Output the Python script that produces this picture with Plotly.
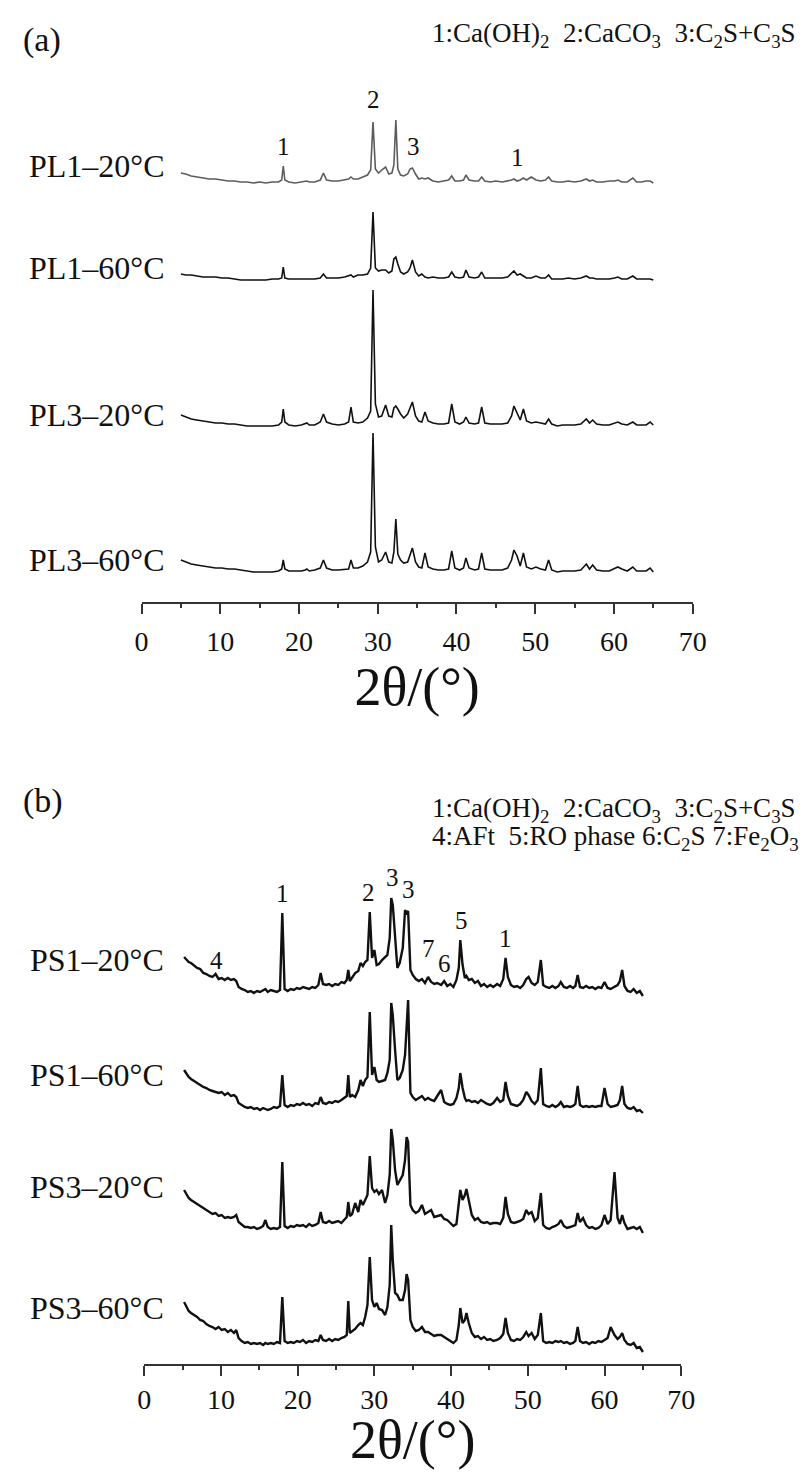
import plotly.graph_objects as go

# ---------------- panel (a): PL samples ----------------
# 2theta grid shared by the four PL patterns (deg)
A_X = [5.0, 5.6, 6.3, 7.0, 7.8, 8.6, 9.4, 10.2, 11.0, 11.8,
       12.6, 13.4, 14.2, 15.0, 15.8, 16.6, 17.4, 17.8, 18.0, 18.2,
       18.7, 19.5, 20.3, 20.8, 21.0, 21.3, 22.0, 22.7, 23.1, 23.5,
       24.2, 25.0, 25.8, 26.3, 26.6, 26.9, 27.5, 28.1, 28.7, 29.1,
       29.4, 29.7, 30.1, 30.5, 31.0, 31.4, 31.8, 32.05, 32.3, 32.55,
       32.9, 33.3, 33.8, 34.1, 34.4, 34.8, 35.2, 35.6, 36.0, 36.4,
       37.0, 37.7, 38.4, 39.0, 39.4, 39.8, 40.4, 40.9, 41.2, 41.6,
       42.3, 42.8, 43.2, 43.6, 44.3, 45.0, 45.8, 46.5, 47.0, 47.3,
       47.7, 48.1, 48.5, 48.9, 49.5, 50.1, 50.7, 51.3, 51.7, 52.1,
       52.8, 53.5, 54.2, 55.0, 55.8, 56.5, 56.9, 57.3, 57.8, 58.6,
       59.4, 60.1, 60.5, 61.0, 61.7, 62.4, 62.9, 63.5, 64.1, 64.6, 65.0]

# intensities (a.u.) above each pattern's own baseline
PL1_20 = [10, 9, 7, 6, 5, 4, 4, 3, 2, 2,
          1, 1, 0, 1, 0, 1, 1, 3, 17, 3,
          1, 0, 1, 1, 2, 1, 1, 3, 10, 3,
          2, 2, 3, 4, 6, 4, 4, 6, 8, 13,
          61, 14, 10, 13, 16, 9, 10, 18, 63, 14,
          8, 7, 9, 14, 15, 9, 4, 5, 4, 5,
          2, 1, 2, 3, 7, 2, 2, 3, 8, 3,
          2, 2, 6, 2, 1, 2, 1, 2, 3, 4,
          2, 3, 5, 3, 6, 3, 2, 3, 6, 2,
          1, 1, 2, 1, 2, 4, 2, 3, 1, 1,
          2, 2, 3, 1, 1, 5, 1, 1, 2, 2, 0]
PL1_60 = [6, 5, 5, 4, 3, 3, 3, 2, 2, 1,
          0, 0, 0, 0, 0, 1, 1, 2, 13, 2,
          1, 1, 1, 1, 1, 1, 1, 2, 6, 2,
          2, 2, 3, 4, 5, 3, 5, 5, 6, 12,
          68, 12, 9, 10, 10, 7, 9, 21, 23, 16,
          8, 6, 8, 12, 20, 8, 4, 6, 3, 2,
          3, 2, 2, 3, 8, 3, 2, 3, 10, 3,
          2, 3, 8, 2, 2, 2, 2, 3, 7, 9,
          5, 6, 4, 2, 2, 4, 2, 2, 5, 1,
          1, 1, 2, 1, 2, 4, 2, 2, 1, 1,
          1, 2, 3, 1, 1, 4, 1, 1, 1, 1, 0]
PL3_20 = [11, 9, 7, 6, 5, 4, 3, 3, 2, 2,
          1, 0, 0, 0, 0, 0, 1, 4, 17, 4,
          1, 0, 1, 2, 3, 1, 1, 4, 12, 4,
          2, 1, 2, 4, 19, 4, 3, 4, 8, 15,
          136, 22, 9, 10, 21, 10, 9, 18, 20, 17,
          12, 8, 12, 18, 24, 10, 5, 4, 14, 5,
          3, 2, 2, 3, 22, 4, 2, 4, 9, 3,
          2, 3, 19, 3, 2, 2, 2, 3, 10, 20,
          12, 6, 17, 5, 3, 4, 3, 2, 7, 2,
          0, 1, 1, 1, 2, 7, 3, 6, 2, 1,
          1, 3, 4, 2, 1, 4, 1, 1, 1, 4, 1]
PL3_60 = [12, 10, 8, 7, 6, 5, 4, 4, 3, 3,
          2, 1, 0, 0, 0, 0, 1, 3, 12, 3,
          1, 1, 1, 2, 3, 1, 2, 4, 12, 4,
          2, 2, 3, 3, 12, 4, 4, 6, 10, 20,
          139, 25, 10, 12, 20, 10, 9, 20, 53, 18,
          12, 9, 10, 16, 24, 10, 5, 4, 19, 5,
          3, 2, 2, 3, 21, 4, 2, 4, 14, 4,
          2, 3, 19, 3, 2, 2, 2, 4, 12, 22,
          16, 6, 19, 5, 3, 5, 3, 2, 12, 2,
          0, 1, 1, 1, 2, 8, 3, 7, 2, 1,
          1, 4, 5, 3, 1, 5, 1, 1, 1, 4, 0]

A_NAMES = ["PL1\u201320\u00b0C", "PL1\u201360\u00b0C", "PL3\u201320\u00b0C", "PL3\u201360\u00b0C"]
A_OFFSETS = [419, 322, 176, 30]
A_LABEL_Y = [166, 268, 415, 560]  # px on page
A_PEAK_X = [18.0, 29.4, 34.6, 47.7]
A_PEAK_TXT = ["1", "2", "3", "1"]
A_PEAK_Y = [455, 502, 455, 444]

# ---------------- panel (b): PS samples ----------------
B_X = [5.2, 5.5, 5.8, 6.1, 6.5, 6.9, 7.3, 7.7, 8.1, 8.5,
       8.9, 9.3, 9.7, 10.1, 10.5, 10.9, 11.3, 11.7, 12.0, 12.3,
       12.7, 13.1, 13.5, 13.9, 14.3, 14.7, 15.1, 15.5, 15.8, 16.1,
       16.5, 16.9, 17.3, 17.7, 18.0, 18.3, 18.7, 19.1, 19.5, 19.9,
       20.3, 20.7, 21.1, 21.5, 21.9, 22.3, 22.7, 23.0, 23.3, 23.7,
       24.1, 24.5, 24.9, 25.3, 25.7, 26.1, 26.4, 26.6, 26.8, 27.1,
       27.5, 27.9, 28.2, 28.5, 28.8, 29.1, 29.4, 29.7, 30.0, 30.3,
       30.6, 31.0, 31.4, 31.7, 32.0, 32.2, 32.4, 32.7, 33.0, 33.3,
       33.7, 34.0, 34.2, 34.4, 34.7, 35.0, 35.4, 35.8, 36.2, 36.6,
       37.0, 37.4, 37.8, 38.2, 38.7, 39.1, 39.5, 39.9, 40.3, 40.7,
       41.0, 41.2, 41.5, 41.8, 42.0, 42.3, 42.7, 43.1, 43.5, 43.9,
       44.3, 44.7, 45.1, 45.5, 46.0, 46.4, 46.8, 47.1, 47.4, 47.8,
       48.2, 48.6, 49.0, 49.4, 49.8, 50.1, 50.5, 50.9, 51.3, 51.7,
       52.0, 52.4, 52.8, 53.2, 53.6, 54.0, 54.3, 54.7, 55.1, 55.5,
       55.9, 56.2, 56.5, 56.8, 57.2, 57.6, 58.0, 58.4, 58.8, 59.2,
       59.6, 60.0, 60.4, 60.8, 61.3, 61.7, 62.0, 62.3, 62.6, 63.0,
       63.4, 63.8, 64.2, 64.6, 65.0]

PS1_20 = [36, 33, 31, 30, 27, 25, 24, 20, 19, 17,
          16, 19, 14, 15, 13, 15, 13, 14, 12, 6,
          4, 3, 1, 2, 0, 2, 1, 3, 4, 1,
          3, 2, 1, 3, 80, 4, 2, 4, 3, 5,
          4, 6, 5, 4, 6, 5, 8, 20, 9, 8,
          9, 7, 9, 8, 11, 10, 13, 23, 12, 15,
          20, 22, 30, 27, 31, 33, 81, 35, 43, 28,
          29, 33, 36, 38, 55, 95, 88, 60, 25, 30,
          45, 83, 80, 82, 23, 18, 14, 12, 14, 10,
          16, 11, 9, 10, 8, 12, 7, 9, 6, 13,
          25, 53, 28, 15, 17, 13, 14, 10, 12, 7,
          9, 6, 8, 6, 9, 7, 14, 35, 16, 8,
          6, 7, 5, 8, 14, 16, 10, 8, 11, 33,
          8, 6, 5, 7, 5, 7, 11, 6, 5, 7,
          5, 7, 18, 6, 5, 7, 5, 6, 4, 6,
          5, 11, 5, 4, 6, 8, 12, 23, 7, 2,
          1, 4, 0, 2, -3]
PS1_60 = [40, 36, 33, 31, 29, 27, 25, 23, 22, 20,
          19, 18, 17, 18, 15, 17, 14, 15, 13, 7,
          5, 3, 2, 3, 1, 2, 0, 2, 1, 0,
          1, 3, 2, 4, 35, 5, 3, 5, 4, 6,
          5, 7, 5, 6, 4, 7, 6, 13, 7, 6,
          8, 7, 9, 8, 10, 12, 14, 35, 13, 15,
          13, 20, 30, 24, 30, 33, 98, 35, 43, 30,
          28, 29, 30, 37, 50, 107, 95, 60, 30, 32,
          40, 55, 85, 110, 17, 13, 10, 12, 14, 10,
          12, 10, 9, 14, 20, 8, 6, 5, 6, 12,
          22, 37, 22, 12, 9, 10, 8, 9, 7, 10,
          8, 6, 5, 7, 12, 8, 10, 28, 14, 6,
          5, 4, 6, 10, 18, 15, 9, 6, 10, 42,
          6, 4, 3, 5, 3, 5, 8, 3, 4, 3,
          4, 6, 24, 5, 3, 4, 3, 4, 3, 4,
          4, 22, 6, 3, 4, 5, 10, 24, 6, 2,
          1, 3, -1, 0, -3]
PS3_20 = [40, 36, 32, 30, 28, 26, 24, 22, 20, 18,
          16, 17, 14, 15, 12, 13, 12, 13, 15, 8,
          5, 3, 3, 2, 3, 1, 2, 4, 10, 3,
          1, 2, 1, 3, 68, 4, 2, 4, 3, 5,
          4, 5, 3, 6, 4, 5, 7, 18, 8, 7,
          9, 7, 8, 9, 7, 11, 13, 28, 14, 16,
          27, 18, 30, 25, 31, 35, 74, 42, 38, 40,
          36, 40, 27, 35, 55, 101, 90, 60, 45, 50,
          55, 70, 93, 88, 25, 20, 17, 19, 25, 16,
          18, 20, 13, 14, 15, 11, 10, 7, 4, 6,
          28, 40, 30, 35, 41, 30, 15, 10, 12, 8,
          7, 8, 6, 7, 7, 6, 12, 33, 16, 8,
          7, 8, 9, 11, 20, 16, 18, 9, 12, 37,
          5, 2, 1, 3, 4, 6, 10, 4, 2, 3,
          4, 5, 17, 8, 12, 5, 2, 3, 1, 2,
          5, 15, 6, 10, 58, 12, 6, 15, 7, 1,
          2, 3, 1, 3, -3]
PS3_60 = [43, 38, 34, 32, 30, 28, 25, 24, 21, 19,
          18, 16, 18, 15, 16, 13, 15, 12, 15, 7,
          4, 2, 3, 1, 2, 1, 2, 0, 2, 1,
          2, 1, 3, 2, 48, 4, 2, 3, 2, 4,
          3, 5, 2, 4, 3, 5, 4, 10, 5, 4,
          6, 4, 6, 5, 7, 8, 10, 44, 12, 14,
          16, 20, 22, 20, 28, 40, 88, 45, 38, 42,
          36, 35, 30, 38, 60, 120, 85, 52, 50, 45,
          45, 55, 71, 65, 25, 18, 14, 15, 18, 13,
          13, 11, 9, 10, 10, 8, 6, 4, 2, 5,
          20, 37, 22, 25, 32, 22, 12, 8, 9, 6,
          8, 5, 6, 4, 5, 7, 11, 27, 12, 5,
          4, 6, 5, 8, 13, 9, 12, 6, 10, 32,
          4, 2, 3, 2, 4, 3, 4, 2, 3, 1,
          2, 4, 18, 4, 2, 3, 1, 3, 2, 4,
          3, 5, 7, 18, 10, 6, 8, 12, 5, 1,
          0, 2, -3, -2, -7]

B_NAMES = ["PS1\u201320\u00b0C", "PS1\u201360\u00b0C", "PS3\u201320\u00b0C", "PS3\u201360\u00b0C"]
B_OFFSETS = [371, 254, 134, 19]
B_LABEL_Y = [960, 1075, 1187, 1308]  # px on page
B_PEAK_X = [9.4, 18.0, 29.2, 32.3, 34.5, 37.1, 39.1, 41.4, 47.1]
B_PEAK_TXT = ["4", "1", "2", "3", "3", "7", "6", "5", "1"]
B_PEAK_Y = [404, 471, 472, 487, 475, 416, 401, 444, 426]

# page has an 8px body margin, so the figure is a bit smaller than the window
PAD = 8
W, H = 796, 1462
SERIF = "Liberation Serif"
AXC = "#333333"
SP = "\u00a0"


def fx(p):
    return (p - PAD) / W


def fy(p):
    return 1 - (p - PAD) / H


fig = go.Figure()

a_series = [PL1_20, PL1_60, PL3_20, PL3_60]
a_colors = ["#5c5c5c", "#111111", "#111111", "#111111"]
for ys, off, col, name in zip(a_series, A_OFFSETS, a_colors, A_NAMES):
    fig.add_trace(go.Scatter(x=A_X, y=[v + off for v in ys], mode="lines", name=name,
                             line=dict(color=col, width=1.6), xaxis="x", yaxis="y"))

b_series = [PS1_20, PS1_60, PS3_20, PS3_60]
for ys, off, name in zip(b_series, B_OFFSETS, B_NAMES):
    fig.add_trace(go.Scatter(x=B_X, y=[v + off for v in ys], mode="lines", name=name,
                             line=dict(color="#111111", width=2.4), xaxis="x2", yaxis="y2"))


def xaxis_style(domain, anchor, lab_off, title_off):
    return dict(domain=domain, anchor=anchor, range=[0, 70], dtick=10,
                showline=True, linecolor=AXC, linewidth=1.5,
                ticks="outside", ticklen=10, tickwidth=1.5, tickcolor=AXC,
                minor=dict(dtick=5, ticks="outside", ticklen=4, tickwidth=1.5, tickcolor=AXC),
                tickfont=dict(family=SERIF, size=28, color="#111"), ticklabelstandoff=lab_off,
                showgrid=False, zeroline=False,
                title=dict(text="2\u03b8/(\u00b0)", font=dict(family=SERIF, size=54, color="#111"),
                           standoff=title_off))


fig.update_layout(
    width=W, height=H, margin=dict(l=0, r=0, t=0, b=0),
    paper_bgcolor="white", plot_bgcolor="white", showlegend=False,
    xaxis=xaxis_style([fx(138), fx(704)], "y", 4, 10),
    yaxis=dict(domain=[fy(602), fy(80)], range=[0, 522], visible=False),
    xaxis2=xaxis_style([fx(140.7), fx(692.3)], "y2", 0, 4),
    yaxis2=dict(domain=[fy(1364), fy(850)], range=[0, 514], visible=False),
)

# sample names on the left
for name, py in zip(A_NAMES + B_NAMES, A_LABEL_Y + B_LABEL_Y):
    fig.add_annotation(x=fx(163), y=fy(py), xref="paper", yref="paper",
                       text=name, showarrow=False, xanchor="right", yanchor="middle",
                       font=dict(family=SERIF, size=32, color="#111"))

# peak index numbers
for px, t, py in zip(A_PEAK_X, A_PEAK_TXT, A_PEAK_Y):
    fig.add_annotation(x=px, y=py, xref="x", yref="y", text=t, showarrow=False,
                       font=dict(family=SERIF, size=25, color="#111"))
for px, t, py in zip(B_PEAK_X, B_PEAK_TXT, B_PEAK_Y):
    fig.add_annotation(x=px, y=py, xref="x2", yref="y2", text=t, showarrow=False,
                       font=dict(family=SERIF, size=25, color="#111"))

# panel tags and phase keys
for tag, py in [("(a)", 40), ("(b)", 801)]:
    fig.add_annotation(x=fx(14), y=fy(py), xref="paper", yref="paper", text=tag,
                       showarrow=False, xanchor="left", yanchor="middle",
                       font=dict(family=SERIF, size=34, color="#111"))

key1 = ("1:Ca(OH)<sub>2</sub>" + SP * 2 + "2:CaCO<sub>3</sub>" + SP * 2
        + "3:C<sub>2</sub>S+C<sub>3</sub>S")
key2 = ("4:AFt" + SP * 2 + "5:RO phase 6:C<sub>2</sub>S 7:Fe<sub>2</sub>O<sub>3</sub>")
for txt, py in [(key1, 35), (key1, 810), (key2, 838)]:
    fig.add_annotation(x=fx(434), y=fy(py), xref="paper", yref="paper", text=txt,
                       showarrow=False, xanchor="left", yanchor="middle",
                       font=dict(family=SERIF, size=27, color="#111"))

fig.write_html("out.html")
